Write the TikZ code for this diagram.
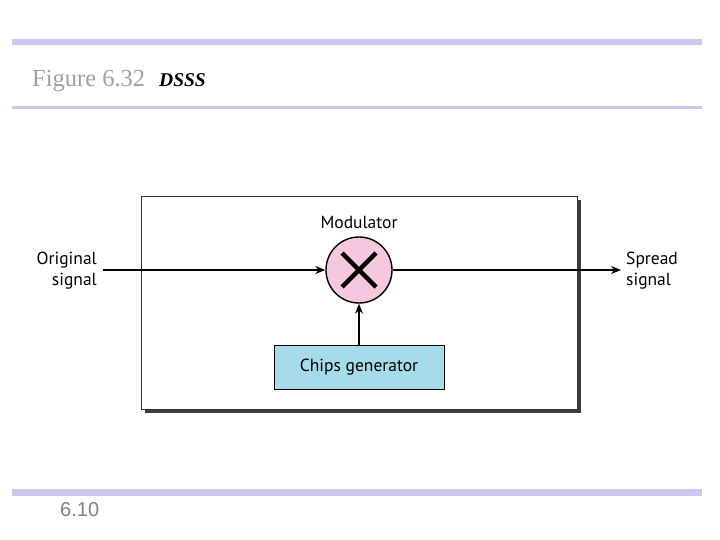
\documentclass[tikz,border=0pt]{standalone}
\usepackage{fontspec}
\setmainfont{Liberation Serif}
\newfontfamily\diagfont{PT Sans}
\newfontfamily\numfont{Liberation Sans}
\usetikzlibrary{arrows.meta}
\definecolor{barcol}{RGB}{200,200,240}
\definecolor{pinkfill}{RGB}{246,200,224}
\definecolor{bluefill}{RGB}{166,220,234}
\definecolor{graytxt}{RGB}{160,160,160}
\definecolor{shadowcol}{RGB}{60,60,60}
\tikzset{
  lbl/.style={font=\diagfont\fontsize{17.5}{21}\selectfont, inner sep=0pt},
  conn/.style={line width=1.2pt, -{Stealth[length=10pt,width=8pt]}},
}
\begin{document}
\begin{tikzpicture}[x=1pt,y=-1pt]
\useasboundingbox (0,0) rectangle (720,540);
% header bars
\fill[barcol] (12,39) rectangle (702,45.5);
\fill[barcol] (12,106.5) rectangle (702,109.5);
\fill[barcol] (12,489) rectangle (702,495.5);
\node[anchor=base west, inner sep=0pt, text=graytxt, font=\fontsize{24.5}{28}\selectfont] (ttl) at (32,87) {Figure 6.32};
\node[anchor=base west, inner sep=0pt, font=\fontsize{19.5}{22}\selectfont\bfseries\itshape] (sub) at (159,87) {DSSS};
\node[anchor=base west, inner sep=0pt, text=graytxt!80!black, font=\numfont\fontsize{20}{22}\selectfont] (pg) at (60,516) {6.10};
% main box with shadow
\fill[shadowcol] (145,200) rectangle (580.5,413);
\draw[fill=white, line width=0.8pt, draw=black!80] (141.5,196.5) rectangle (577,409.5);
% modulator
\node[circle, draw, line width=1.4pt, fill=pinkfill, minimum size=66pt, inner sep=0pt] (mod) at (359,270) {};
\draw[line width=4.5pt] (342,253) -- (376,287) (376,253) -- (342,287);
\node[lbl] (modl) at (359,222) {Modulator};
% chips generator
\node[draw, line width=1pt, fill=bluefill, minimum width=170pt, minimum height=44pt, inner sep=0pt, lbl] (chips) at (359,367) {Chips generator};
% io labels
\node[lbl, align=right, anchor=east] (orig) at (97,271) {Original\\signal};
\node[lbl, align=left, anchor=west] (spread) at (626,271) {Spread\\signal};
\coordinate (in) at (103,270);
\coordinate (out) at (621,270);
\draw[conn] (in) -- (mod.west);
\draw[conn] (mod.east) -- (out);
\draw[conn] (chips.north) -- (mod.south);
\end{tikzpicture}
\end{document}
